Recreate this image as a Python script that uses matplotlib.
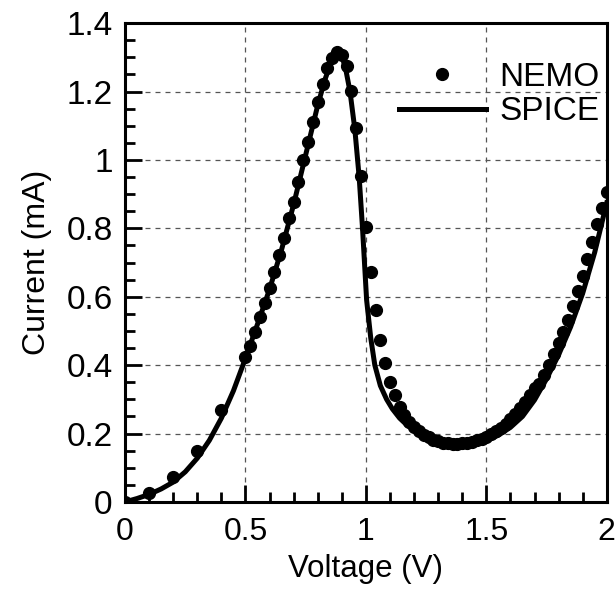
import numpy as np
from matplotlib import pyplot as plt
from matplotlib.ticker import MultipleLocator

# NEMO simulation points (V, mA)
nemo_v = [0.0, 0.1, 0.2, 0.3, 0.4, 0.5, 0.52, 0.54, 0.56, 0.58,
          0.60, 0.62, 0.64, 0.66, 0.68, 0.70, 0.72, 0.74, 0.76, 0.78,
          0.80, 0.82, 0.84, 0.86, 0.88, 0.90, 0.92, 0.94, 0.96, 0.98,
          1.00, 1.02, 1.04, 1.06, 1.08, 1.10, 1.12, 1.14, 1.16, 1.18,
          1.20, 1.22, 1.24, 1.26, 1.28, 1.30, 1.32, 1.34, 1.36, 1.38,
          1.40, 1.42, 1.44, 1.46, 1.48, 1.50, 1.52, 1.54, 1.56, 1.58,
          1.60, 1.62, 1.64, 1.66, 1.68, 1.70, 1.72, 1.74, 1.76, 1.78,
          1.80, 1.82, 1.84, 1.86, 1.88, 1.90, 1.92, 1.94, 1.96, 1.98,
          2.00]
nemo_i = [0.0, 0.025, 0.072, 0.150, 0.270, 0.425, 0.455, 0.498, 0.542, 0.581,
          0.625, 0.673, 0.722, 0.771, 0.829, 0.878, 0.936, 1.000, 1.053, 1.111,
          1.170, 1.222, 1.268, 1.297, 1.315, 1.307, 1.276, 1.202, 1.092, 0.953,
          0.805, 0.673, 0.560, 0.474, 0.406, 0.350, 0.312, 0.279, 0.253, 0.234,
          0.220, 0.207, 0.197, 0.189, 0.182, 0.177, 0.173, 0.171, 0.170, 0.170,
          0.171, 0.173, 0.176, 0.180, 0.185, 0.191, 0.198, 0.207, 0.217, 0.229,
          0.242, 0.257, 0.274, 0.293, 0.313, 0.333, 0.345, 0.370, 0.400, 0.432,
          0.466, 0.498, 0.533, 0.572, 0.616, 0.662, 0.710, 0.760, 0.812, 0.860,
          0.905]

# SPICE model curve (V, mA)
spice_v = [0.0, 0.05, 0.1, 0.15, 0.2, 0.25, 0.3, 0.35, 0.4, 0.45,
           0.5, 0.55, 0.6, 0.65, 0.7, 0.75, 0.8, 0.83, 0.85, 0.87,
           0.885, 0.90, 0.915, 0.934, 0.954, 0.972, 0.986, 1.003, 1.02, 1.037,
           1.06, 1.086, 1.11, 1.14, 1.17, 1.20, 1.25, 1.30, 1.35, 1.38,
           1.42, 1.46, 1.50, 1.55, 1.60, 1.65, 1.70, 1.75, 1.80, 1.85,
           1.90, 1.95, 2.0]
spice_i = [0.0, 0.010, 0.022, 0.038, 0.058, 0.088, 0.128, 0.180, 0.245, 0.325,
           0.420, 0.520, 0.622, 0.738, 0.870, 1.015, 1.160, 1.235, 1.275, 1.302,
           1.312, 1.303, 1.270, 1.200, 1.090, 0.950, 0.800, 0.590, 0.480, 0.400,
           0.340, 0.300, 0.272, 0.245, 0.225, 0.210, 0.190, 0.176, 0.168, 0.167,
           0.168, 0.172, 0.180, 0.195, 0.218, 0.250, 0.298, 0.360, 0.430, 0.512,
           0.610, 0.730, 0.875]

plt.rcParams['font.family'] = ['Liberation Sans', 'DejaVu Sans']

fig = plt.figure(figsize=(6.16, 5.94), dpi=100)
ax = fig.add_axes([0.203, 0.155, 0.782, 0.806])

ax.plot(nemo_v, nemo_i, 'o', color='black', markersize=8.5, label='NEMO',
        zorder=3)
ax.plot(spice_v, spice_i, '-', color='black', linewidth=3.6, label='SPICE',
        zorder=4)

ax.set_xlim(0, 2)
ax.set_ylim(0, 1.4)
ax.xaxis.set_minor_locator(MultipleLocator(0.1))
ax.yaxis.set_minor_locator(MultipleLocator(0.05))
ax.set_xticks([0, 0.5, 1, 1.5, 2])
ax.set_xticklabels(['0', '0.5', '1', '1.5', '2'])
ax.set_yticks([0, 0.2, 0.4, 0.6, 0.8, 1.0, 1.2, 1.4])
ax.set_yticklabels(['0', '0.2', '0.4', '0.6', '0.8', '1', '1.2', '1.4'])

ax.tick_params(which='both', direction='in', top=False, right=False, width=2)
ax.tick_params(which='major', length=12)
ax.tick_params(which='minor', length=7)
ax.tick_params(axis='x', which='major', labelsize=23, pad=11)
ax.tick_params(axis='y', which='major', labelsize=24, pad=9)
for s in ax.spines.values():
    s.set_linewidth(2.2)

ax.grid(True, which='major', linestyle=(0, (4, 4)), color='#555555',
        linewidth=0.9)

ax.set_xlabel('Voltage (V)', fontsize=22.5, labelpad=5)
ax.set_ylabel('Current (mA)', fontsize=23, labelpad=10)

ax.legend(loc='upper right', bbox_to_anchor=(1.012, 0.947), borderaxespad=0,
          frameon=False, fontsize=24, numpoints=1, handlelength=2.6,
          handletextpad=0.4, labelspacing=0.1)

fig.savefig('out.png', dpi=100)
